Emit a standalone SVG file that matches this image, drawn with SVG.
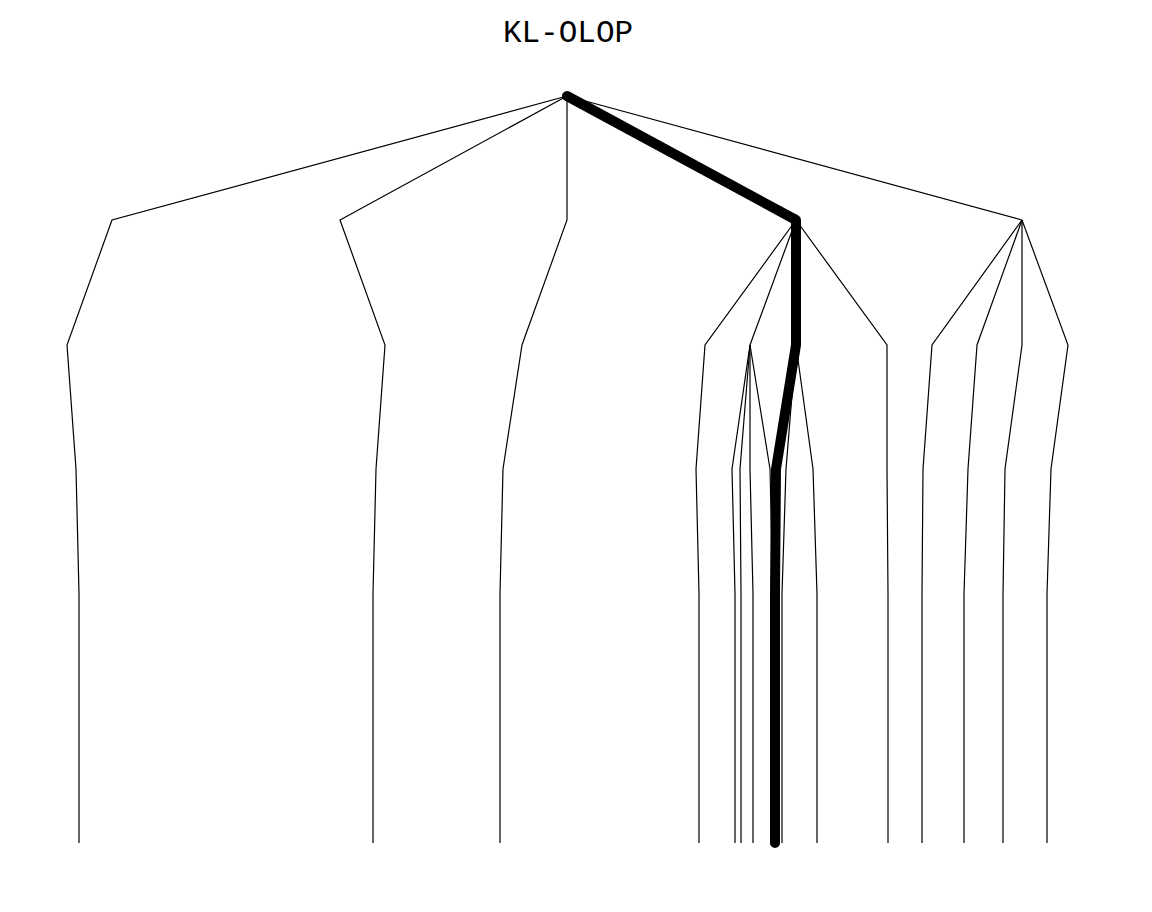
<svg xmlns="http://www.w3.org/2000/svg" width="1152" height="912" viewBox="0 0 1152 912">
<style>
.e{fill:none;stroke:#000;stroke-width:1.2;stroke-linejoin:miter}
.hl{fill:none;stroke:#000;stroke-width:10;stroke-linecap:round;stroke-linejoin:round}
.t{font-family:"Liberation Mono","DejaVu Sans Mono",monospace;font-size:31px;fill:#000}
</style>
<rect width="1152" height="912" fill="#fff"/>
<text class="t" x="568" y="42" text-anchor="middle">KL-OLOP</text>
<g id="connectors">
<polyline class="e" points="567,96 112,220 67,345 76,469 79,594 79,718 79,843"/>
<polyline class="e" points="567,96 340,220 385,345 376,469 373,594 373,718 373,843"/>
<polyline class="e" points="567,96 567,220 522,345 503,469 500,594 500,718 500,843"/>
<polyline class="e" points="567,96 796,220"/>
<polyline class="e" points="567,96 1022,220"/>
<polyline class="e" points="796,220 705,345 696,469 699,594 699,718 699,843"/>
<polyline class="e" points="796,220 750,345 732,469 735,594 735,718 735,843"/>
<polyline class="e" points="750,345 740,469 741,594 741,718 741,843"/>
<polyline class="e" points="750,345 750,469 753,594 753,718 753,843"/>
<polyline class="e" points="750,345 770,469 773,594 773,718 773,843"/>
<polyline class="e" points="796,220 796,345 786,469 782,594 782,718 782,843"/>
<polyline class="e" points="796,345 813,469 817,594 817,718 817,843"/>
<polyline class="e" points="796,220 887,345 887,469 888,594 888,718 888,843"/>
<polyline class="e" points="1022,220 932,345 923,469 922,594 922,718 922,843"/>
<polyline class="e" points="1022,220 977,345 968,469 964,594 964,718 964,843"/>
<polyline class="e" points="1022,220 1022,345 1005,469 1003,594 1003,718 1003,843"/>
<polyline class="e" points="1022,220 1068,345 1051,469 1047,594 1047,718 1047,843"/>
<polyline id="highlight" class="hl" points="567,96 796,220 796,345 776,469 775,594 775,718 775,843"/>
</g>
</svg>
